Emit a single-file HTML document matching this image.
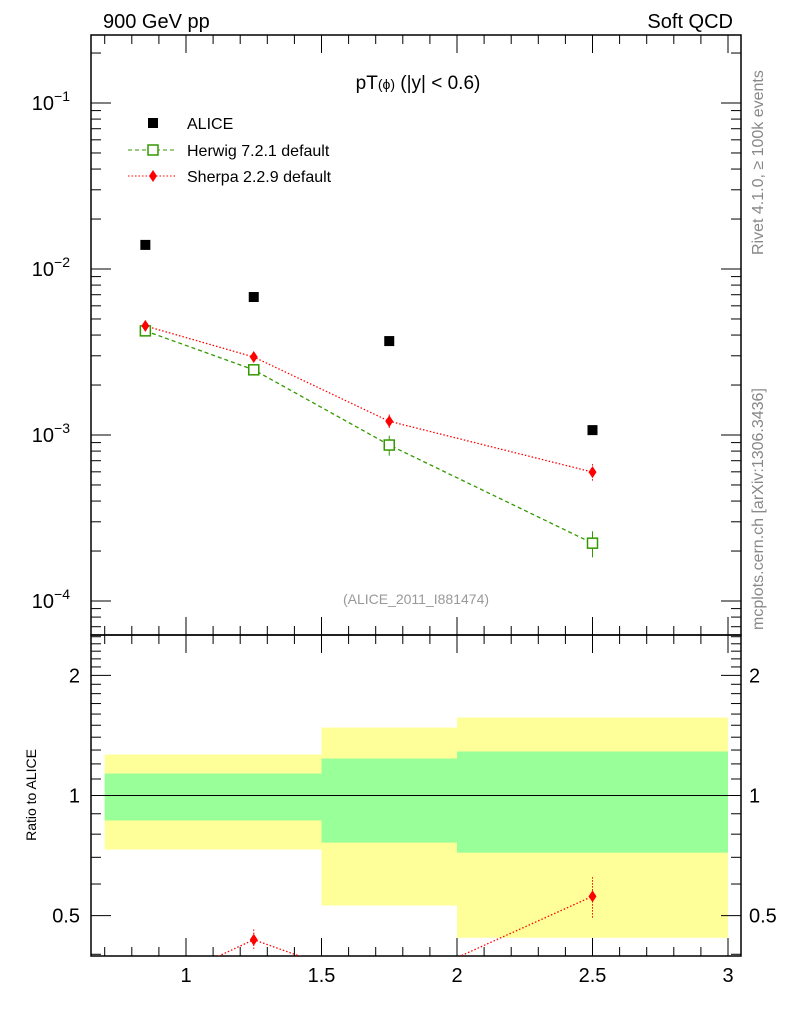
<!DOCTYPE html>
<html><head><meta charset="utf-8"><style>
body{margin:0;background:#fff;}
svg{display:block;font-family:"Liberation Sans",sans-serif;}
</style></head><body>
<svg id="c" width="786" height="1024" viewBox="0 0 786 1024">
<text x="103" y="28" font-size="20">900 GeV pp</text>
<text x="733" y="28" font-size="20" text-anchor="end">Soft QCD</text>
<text x="418" y="89" font-size="19" text-anchor="middle">pT<tspan font-size="14">(ϕ)</tspan> (|y| &lt; 0.6)</text>
<text x="416" y="604" font-size="14" fill="#999" text-anchor="middle">(ALICE_2011_I881474)</text>
<text transform="translate(763,255) rotate(-90)" font-size="16" fill="#888">Rivet 4.1.0, ≥ 100k events</text>
<text transform="translate(763,630) rotate(-90)" font-size="16" fill="#888">mcplots.cern.ch [arXiv:1306.3436]</text>
<text transform="translate(36,795) rotate(-90)" font-size="14" text-anchor="middle">Ratio to ALICE</text>
<g id="legend">
<rect x="148" y="118" width="10" height="10" fill="#000"/>
<text x="187" y="129" font-size="16">ALICE</text>
<line x1="128" y1="150" x2="177" y2="150" stroke="#339900" stroke-dasharray="4,3"/>
<rect x="148" y="145" width="10" height="10" fill="#fff" stroke="#339900" stroke-width="1.5"/>
<text x="187" y="156" font-size="16">Herwig 7.2.1 default</text>
<line x1="128" y1="176" x2="177" y2="176" stroke="#f00" stroke-dasharray="1.5,2"/>
<path d="M153,170 L157,176 L153,182 L149,176Z" fill="#f00"/>
<text x="187" y="182" font-size="16">Sherpa 2.2.9 default</text>
</g>
</svg>
<script>
const xs=[0.85,1.25,1.75,2.5];
const alice=[0.01397,0.00678,0.00368,0.00107];
const herwig=[0.00424,0.00247,0.00087,0.000223];
const herwigErr=[0.0002,0.00012,0.00012,0.00004];
const sherpa=[0.00454,0.00295,0.00121,0.000598];
const sherpaErr=[0.0003,0.00018,0.00012,0.00007];
const binEdges=[0.7,1.5,2,3];
const greenLo=[0.866,0.762,0.719];
const greenHi=[1.135,1.238,1.289];
const yellowLo=[0.732,0.53,0.44];
const yellowHi=[1.267,1.48,1.568];
const xTicks=[1,1.5,2,2.5,3];
const yTicks=[-1,-2,-3,-4];
const rTicks=[0.5,1,2];

const svg=document.getElementById('c');
const NS='http://www.w3.org/2000/svg';
const L=91,R=741,T=35,M=635,B=956;
const X=v=>186+(v-1)*271;
const Y=v=>103+(-1-Math.log10(v))*166;
const RY=v=>795.5-Math.log10(v)*399;
function el(t,a,p){const e=document.createElementNS(NS,t);for(const k in a)e.setAttribute(k,a[k]);(p||svg).appendChild(e);return e;}

for(let i=0;i<3;i++){
 const y=el('rect',{x:X(binEdges[i]),y:RY(yellowHi[i]),width:X(binEdges[i+1])-X(binEdges[i]),height:RY(yellowLo[i])-RY(yellowHi[i]),fill:'#ffff99'});
 
 
 const g=el('rect',{x:X(binEdges[i]),y:RY(greenHi[i]),width:X(binEdges[i+1])-X(binEdges[i]),height:RY(greenLo[i])-RY(greenHi[i]),fill:'#99ff99'});
 
 
}
const one=el('line',{x1:L,x2:R,y1:RY(1),y2:RY(1),stroke:'#000'});



const f1=el('rect',{x:L,y:T,width:R-L,height:M-T,fill:'none',stroke:'#000','stroke-width':1.5});


const f2=el('rect',{x:L,y:M,width:R-L,height:B-M,fill:'none',stroke:'#000','stroke-width':1.5});



for(let v=0.7;v<=3.041;v+=0.1){
 const vv=Math.round(v*10)/10;const major=Math.abs(vv*2-Math.round(vv*2))<1e-6;const len=major?18:9;
 for(const [y0,d] of [[T,1],[M,-1],[M,1],[B,-1]]){
  const t=el('line',{x1:X(vv),x2:X(vv),y1:y0,y2:y0+d*len,stroke:'#000'});
  
  
 }
}
xTicks.forEach(v=>{const t=el('text',{x:X(v),y:982,'font-size':20,'text-anchor':'middle'});t.textContent=String(v);
 
 });

for(let d=-5;d<=-1;d++)for(let m=1;m<10;m++){
 const v=m*Math.pow(10,d);const y=Y(v);if(y<T||y>M)continue;const len=m==1?20:10;
 for(const [x0,s] of [[L,1],[R,-1]]){const t=el('line',{x1:x0,x2:x0+s*len,y1:y,y2:y,stroke:'#000'});
  
  }
}
yTicks.forEach(e=>{const t=el('text',{x:70,y:Y(Math.pow(10,e))+7,'font-size':20,'text-anchor':'end'});
 t.innerHTML='10<tspan dy="-9" font-size="14">'+(e<0?'−':'')+Math.abs(e)+'</tspan>';
 
 });

const rminor=[0.4,0.5,0.6,0.7,0.8,0.9,1,1.1,1.2,1.3,1.4,1.5,1.6,1.7,1.8,1.9,2,2.1,2.2,2.3,2.4,2.5];
rminor.forEach(v=>{const y=RY(v);if(y<M||y>B)return;const len=rTicks.includes(v)?20:10;
 for(const [x0,s] of [[L,1],[R,-1]]){const t=el('line',{x1:x0,x2:x0+s*len,y1:y,y2:y,stroke:'#000'});
  
  }});
rTicks.forEach(v=>{for(const [x,a] of [[80,'end'],[749,'start']]){const t=el('text',{x:x,y:RY(v)+7,'font-size':20,'text-anchor':a});t.textContent=String(v);
 
 }});

const cp=el('clipPath',{id:'rc'});el('rect',{x:L,y:M,width:R-L,height:B-M},cp);
const rg=el('g',{'clip-path':'url(#rc)'});



const hl=el('polyline',{points:xs.map((x,i)=>X(x)+','+Y(herwig[i])).join(' '),fill:'none',stroke:'#339900','stroke-dasharray':'4,3','stroke-width':1.3});


const sl=el('polyline',{points:xs.map((x,i)=>X(x)+','+Y(sherpa[i])).join(' '),fill:'none',stroke:'#f00','stroke-dasharray':'1.5,2','stroke-width':1.3});


xs.forEach((x,i)=>{
 const a=el('rect',{x:X(x)-5,y:Y(alice[i])-5,width:10,height:10,fill:'#000'});
 
 
 const he=el('line',{x1:X(x),x2:X(x),y1:Y(herwig[i]+herwigErr[i]),y2:Y(herwig[i]-herwigErr[i]),stroke:'#339900'});
 
 
 const h=el('rect',{x:X(x)-5,y:Y(herwig[i])-5,width:10,height:10,fill:'#fff',stroke:'#339900','stroke-width':1.5});
 
 
 const se=el('line',{x1:X(x),x2:X(x),y1:Y(sherpa[i]+sherpaErr[i]),y2:Y(sherpa[i]-sherpaErr[i]),stroke:'#f00','stroke-dasharray':'1.5,1.5'});
 
 
 const cx=X(x),cy=Y(sherpa[i]);
 const s=el('path',{d:`M${cx},${cy-6}L${cx+4},${cy}L${cx},${cy+6}L${cx-4},${cy}Z`,fill:'#f00'});
 
 
});
const hr=herwig.map((v,i)=>v/alice[i]);
const sr=sherpa.map((v,i)=>v/alice[i]);
const hrl=el('polyline',{points:xs.map((x,i)=>X(x)+','+RY(hr[i])).join(' '),fill:'none',stroke:'#339900','stroke-dasharray':'4,3'},rg);


const srl=el('polyline',{points:xs.map((x,i)=>X(x)+','+RY(sr[i])).join(' '),fill:'none',stroke:'#f00','stroke-dasharray':'1.5,2','stroke-width':1.3},rg);


xs.forEach((x,i)=>{
 const cx=X(x),cy=RY(sr[i]);const e=sherpaErr[i]/alice[i];
 const se=el('line',{x1:cx,x2:cx,y1:RY(sr[i]+e),y2:RY(Math.max(sr[i]-e,0.01)),stroke:'#f00','stroke-dasharray':'1.5,1.5'},rg);
 
 
 const s=el('path',{d:`M${cx},${cy-6}L${cx+4},${cy}L${cx},${cy+6}L${cx-4},${cy}Z`,fill:'#f00'},rg);
 
 
});
</script>
</body></html>
